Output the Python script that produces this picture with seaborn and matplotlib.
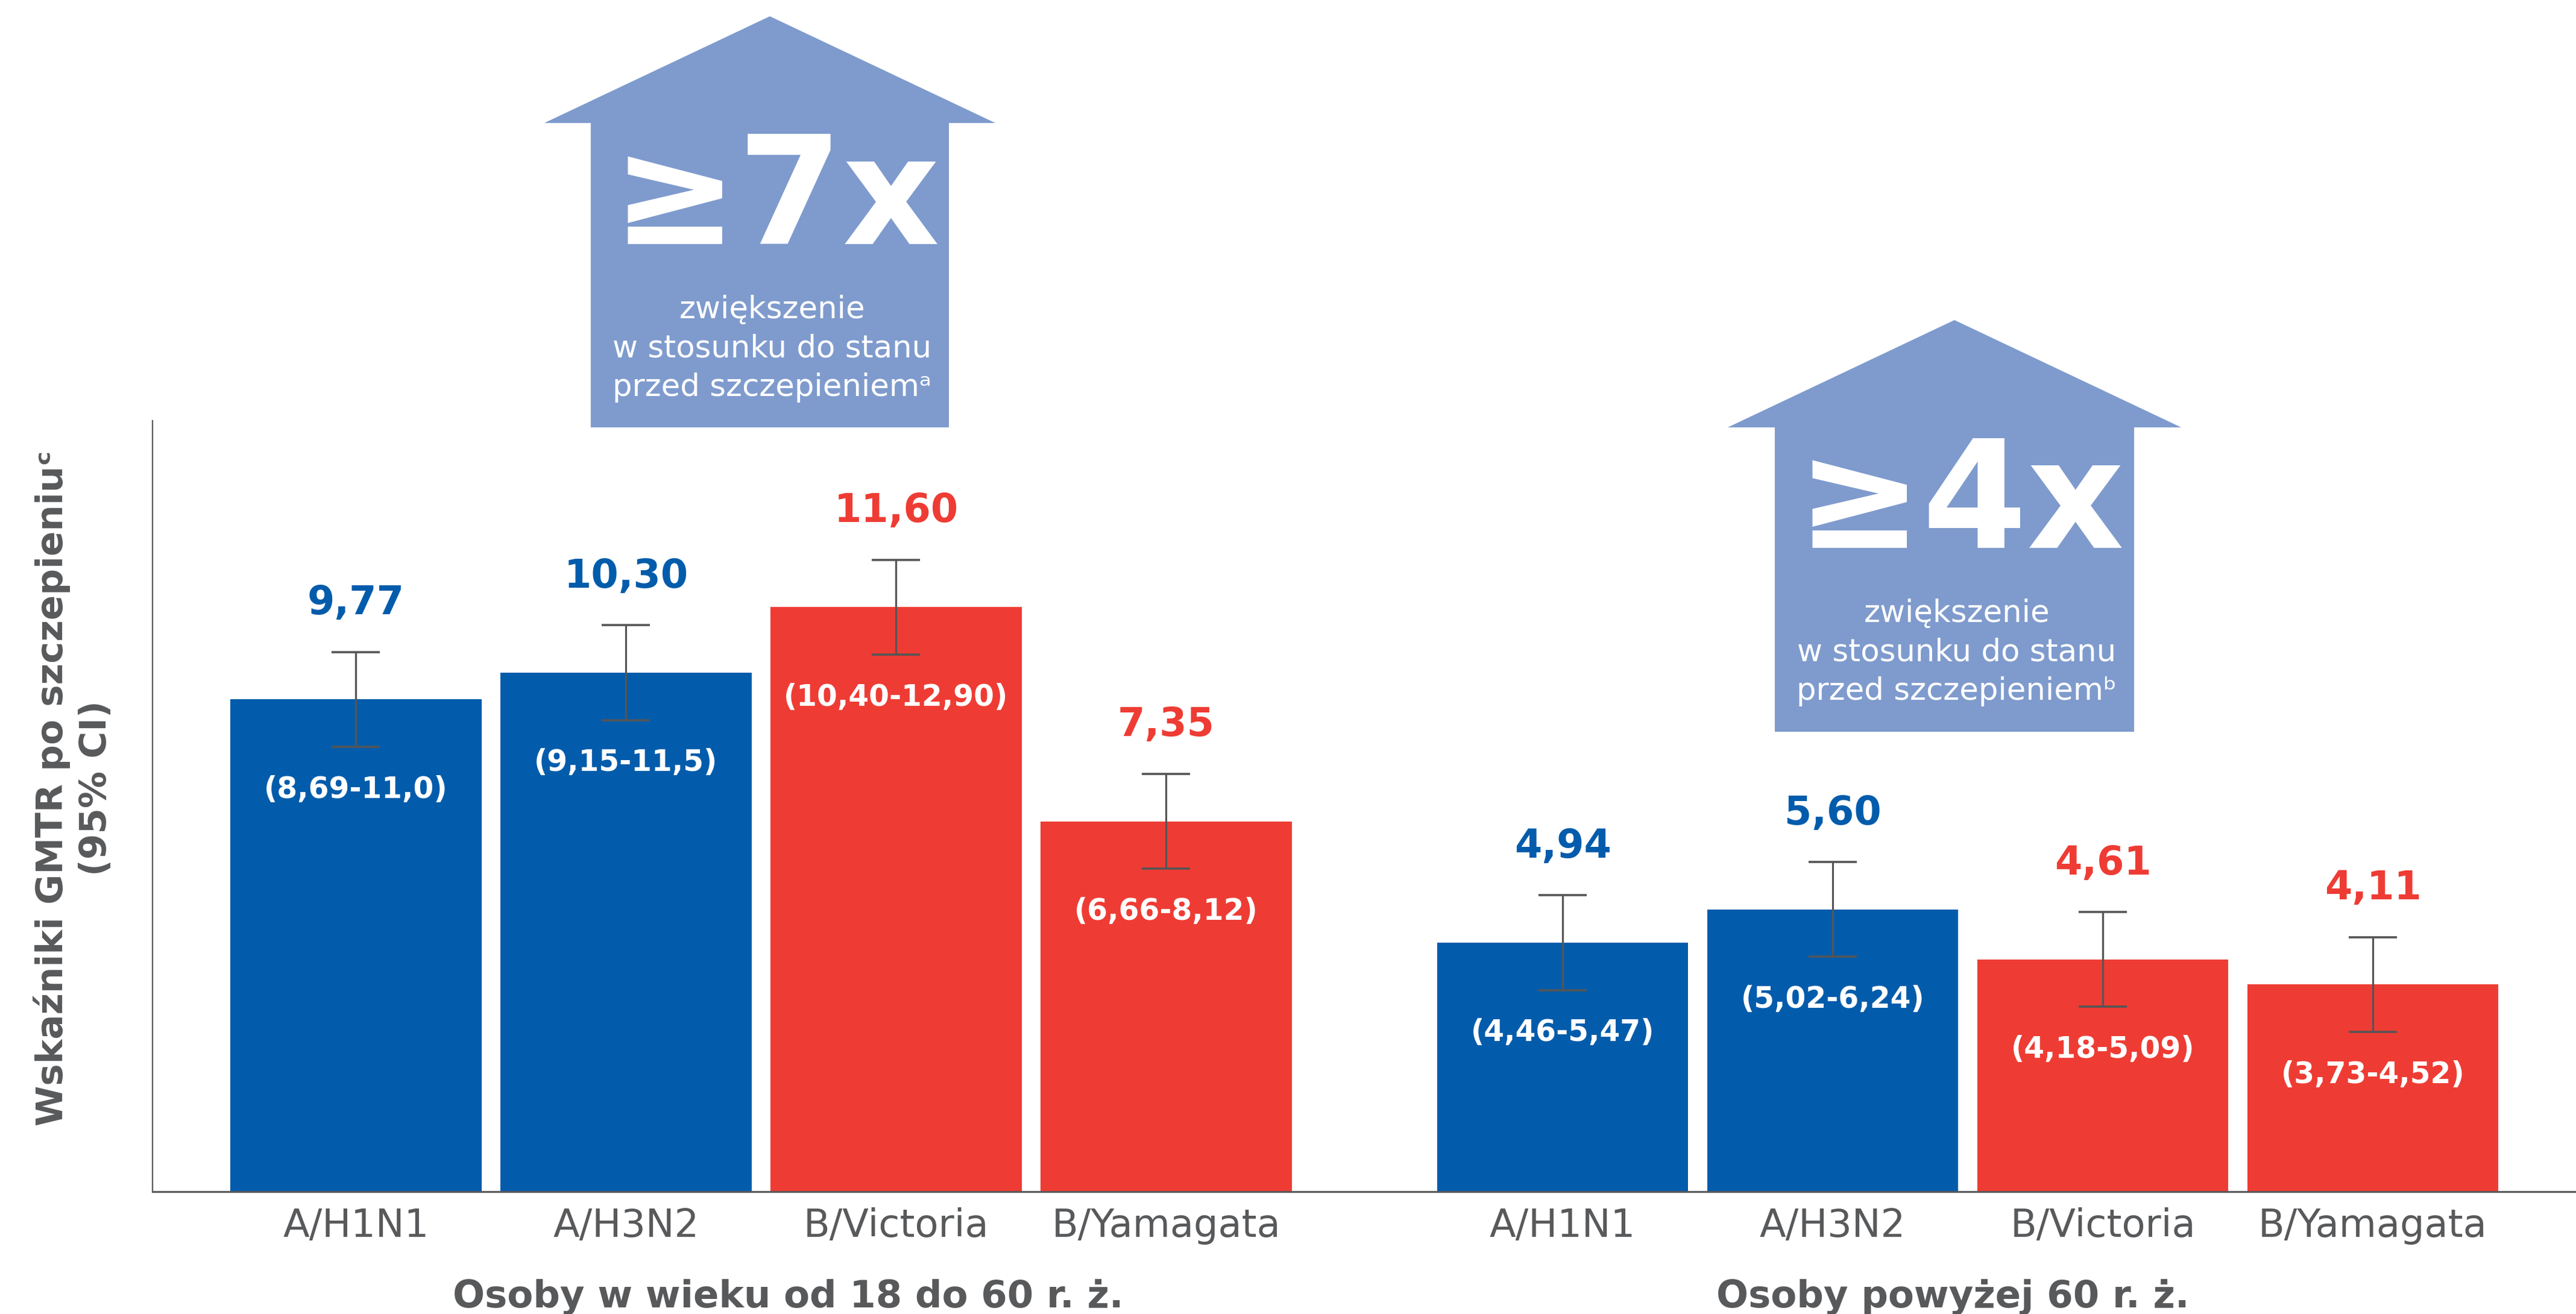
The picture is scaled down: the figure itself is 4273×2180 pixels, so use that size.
import pandas as pd
import matplotlib.pyplot as plt
import seaborn as sns
from matplotlib.patches import Polygon

# data
groups = ['Osoby w wieku od 18 do 60 r. ż.', 'Osoby powyżej 60 r. ż.']
strains = ['A/H1N1', 'A/H3N2', 'B/Victoria', 'B/Yamagata']
lineage = ['A', 'A', 'B', 'B']
gmtr = [9.77, 10.30, 11.60, 7.35, 4.94, 5.60, 4.61, 4.11]
err = [0.94, 0.94, 0.94, 0.94, 0.94, 0.94, 0.94, 0.94]
ci_labels = ['(8,69-11,0)', '(9,15-11,5)', '(10,40-12,90)', '(6,66-8,12)',
             '(4,46-5,47)', '(5,02-6,24)', '(4,18-5,09)', '(3,73-4,52)']
fold_labels = ['≥7x', '≥4x']
fold_notes = ['ᵃ', 'ᵇ']

BLUE = '#035CAB'
RED = '#EE3C34'
GRAY = '#58595B'
ARROW = '#7F9BCD'

sns.set_style('white')
plt.rcParams['font.family'] = ['DejaVu Sans']

W, H = 4273, 2180
group_gap = 0.468
group_label_shift = [0.1, -0.055]

rows = []
for g, grp in enumerate(groups):
    for i, s in enumerate(strains):
        k = g * len(strains) + i
        rows.append({'pos': i + g * (len(strains) + group_gap), 'strain': s,
                     'group': grp, 'lineage': lineage[i], 'gmtr': gmtr[k],
                     'err': err[k], 'ci': ci_labels[k]})
df = pd.DataFrame(rows)

fig = plt.figure(figsize=(W / 100, H / 100), dpi=100)
ax = fig.add_axes([253 / W, 1 - 1977 / H, 1 - 253 / W, (1977 - 698) / H])

sns.barplot(data=df, x='pos', y='gmtr', hue='lineage',
            palette={'A': BLUE, 'B': RED}, native_scale=True, width=0.93,
            dodge=False, legend=False, errorbar=None, saturation=1,
            linewidth=0, ax=ax)
ax.errorbar(df['pos'], df['gmtr'], yerr=df['err'], fmt='none', ecolor='#555555',
            elinewidth=2.3, capsize=28.5, capthick=2.6, zorder=3)

ax.set_xlim(-0.753, 8.22)
ax.set_ylim(0, 15.3)
ax.set_yticks([])
ax.set_xticks(df['pos'])
ax.set_xticklabels(df['strain'], fontsize=46, color=GRAY)
ax.tick_params(axis='x', length=0, pad=19)
ax.set_xlabel('')
ax.set_ylabel('')
for side in ['top', 'right']:
    ax.spines[side].set_visible(False)
ax.spines['left'].set_color(GRAY)
ax.spines['left'].set_linewidth(1.6)
ax.spines['bottom'].set_color(GRAY)
ax.spines['bottom'].set_linewidth(2.2)

# value and CI labels
for _, r in df.iterrows():
    col = BLUE if r['lineage'] == 'A' else RED
    ax.annotate(f"{r['gmtr']:.2f}".replace('.', ','), xy=(r['pos'], r['gmtr'] + r['err']),
                xytext=(0, 45), textcoords='offset points', ha='center', va='baseline',
                fontsize=47, fontweight='bold', color=col)
    ax.annotate(r['ci'], xy=(r['pos'], r['gmtr'] - r['err']),
                xytext=(0, -61), textcoords='offset points', ha='center', va='baseline',
                fontsize=35, fontweight='bold', color='white')

# group labels
for g, grp in enumerate(groups):
    c = df.loc[df['group'] == grp, 'pos'].mean() + group_label_shift[g]
    ax.annotate(grp, xy=(c, 11 / H), xycoords=('data', 'figure fraction'),
                ha='center', va='baseline', fontsize=45, fontweight='bold', color=GRAY)

# y label
fig.text(122 / W, 1 - 1308 / H, 'Wskaźniki GMTR po szczepieniuᶜ\n(95% CI)', rotation=90,
         ha='center', va='center', fontsize=44, fontweight='bold', color=GRAY,
         linespacing=1.3)

# fold-increase arrows
arrows = [dict(cx=1277, top=27, shoulder=204, half_w=374, half_b=297, bottom=709),
          dict(cx=3242, top=531, shoulder=709, half_w=376, half_b=298, bottom=1214)]
for a, lab, note in zip(arrows, fold_labels, fold_notes):
    pts = [(a['cx'], a['top']), (a['cx'] + a['half_w'], a['shoulder']),
           (a['cx'] + a['half_b'], a['shoulder']), (a['cx'] + a['half_b'], a['bottom']),
           (a['cx'] - a['half_b'], a['bottom']), (a['cx'] - a['half_b'], a['shoulder']),
           (a['cx'] - a['half_w'], a['shoulder'])]
    pts = [(x / W, 1 - y / H) for x, y in pts]
    fig.add_artist(Polygon(pts, closed=True, transform=fig.transFigure,
                           facecolor=ARROW, edgecolor='none'))
    base = a['top'] + 378
    fig.text((a['cx'] + 10) / W, 1 - base / H, lab, ha='center', va='baseline',
             fontsize=180, fontweight='bold', color='white')
    lines = ['zwiększenie', 'w stosunku do stanu', 'przed szczepieniem' + note]
    for j, line in enumerate(lines):
        fig.text((a['cx'] + 4) / W, 1 - (base + 123 + 64.5 * j) / H, line,
                 ha='center', va='baseline', fontsize=37, color='white')

fig.savefig('out.png', dpi=100)
